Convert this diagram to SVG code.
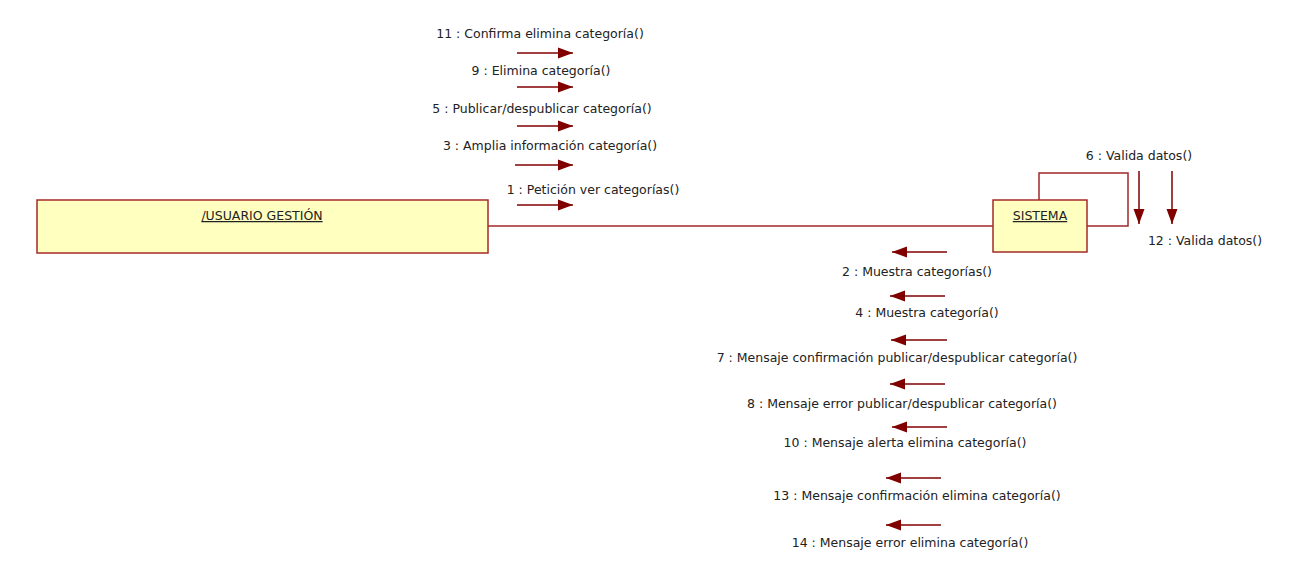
<svg xmlns="http://www.w3.org/2000/svg" width="1299" height="572" viewBox="0 0 1299 572">
<style>
.node{fill:#FFFFBF;stroke:#A52A2A;stroke-width:1.5}
.lnk{fill:none;stroke:#A0282A;stroke-width:1.5}
.msg{fill:none;stroke:#800000;stroke-width:1.5}
text{font-family:"DejaVu Sans",Verdana,sans-serif;font-size:12.5px;fill:#222;text-anchor:middle}
.title{text-decoration:underline}
</style>
<defs>
<marker id="ah" markerUnits="userSpaceOnUse" markerWidth="16" markerHeight="12" refX="15" refY="6" orient="auto"><path d="M0,0.5 L15,6 L0,11.5 z" fill="#800000"/></marker>
</defs>
<rect width="1299" height="572" fill="#fff"/>
<g id="links">
<path class="lnk" d="M488,226 H993"/>
<path class="lnk" d="M1039,200 V173 H1128 V226 H1087"/>
</g>
<g id="usuario">
<rect class="node" x="37" y="200" width="451" height="53"/>
<text class="title" x="262" y="220">/USUARIO GESTIÓN</text>
</g>
<g id="sistema">
<rect class="node" x="993" y="200" width="94" height="52"/>
<text class="title" x="1040" y="220">SISTEMA</text>
</g>
<g id="messages">
<path class="msg" marker-end="url(#ah)" d="M517,53 H573"/>
<text x="540" y="38">11 : Confirma elimina categoría()</text>
<path class="msg" marker-end="url(#ah)" d="M517,87 H573"/>
<text x="541" y="75">9 : Elimina categoría()</text>
<path class="msg" marker-end="url(#ah)" d="M517,126 H573"/>
<text x="542" y="113">5 : Publicar/despublicar categoría()</text>
<path class="msg" marker-end="url(#ah)" d="M515,165 H573"/>
<text x="550" y="150">3 : Amplia información categoría()</text>
<path class="msg" marker-end="url(#ah)" d="M517,205 H573"/>
<text x="593" y="194">1 : Petición ver categorías()</text>
<path class="msg" marker-end="url(#ah)" d="M1139,171 V224"/>
<text x="1139" y="160">6 : Valida datos()</text>
<path class="msg" marker-end="url(#ah)" d="M1172,171 V224"/>
<text x="1205" y="245">12 : Valida datos()</text>
<path class="msg" marker-end="url(#ah)" d="M947,252 H892"/>
<text x="917" y="276">2 : Muestra categorías()</text>
<path class="msg" marker-end="url(#ah)" d="M945,296 H890"/>
<text x="927" y="317">4 : Muestra categoría()</text>
<path class="msg" marker-end="url(#ah)" d="M947,340 H891"/>
<text x="897" y="362">7 : Mensaje confirmación publicar/despublicar categoría()</text>
<path class="msg" marker-end="url(#ah)" d="M945,384 H890"/>
<text x="902" y="408">8 : Mensaje error publicar/despublicar categoría()</text>
<path class="msg" marker-end="url(#ah)" d="M947,427 H892"/>
<text x="905" y="447">10 : Mensaje alerta elimina categoría()</text>
<path class="msg" marker-end="url(#ah)" d="M941,478 H886"/>
<text x="917" y="500">13 : Mensaje confirmación elimina categoría()</text>
<path class="msg" marker-end="url(#ah)" d="M941,525 H886"/>
<text x="910" y="547">14 : Mensaje error elimina categoría()</text>
</g>
</svg>
